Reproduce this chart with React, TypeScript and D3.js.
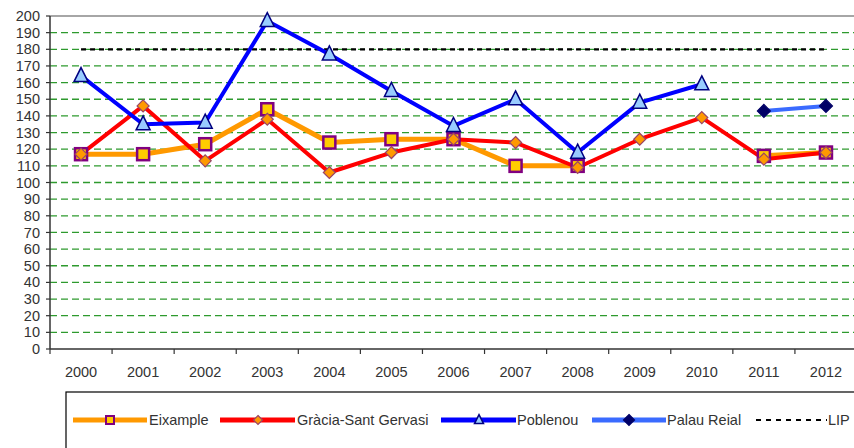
import React from "react";
import * as d3 from "d3";

const years = ["2000","2001","2002","2003","2004","2005","2006","2007","2008","2009","2010","2011","2012"];
const eixample: (number | null)[] = [117,117,123,144,124,126,126,110,110,null,null,116,118];
const gracia: (number | null)[] = [117,146,113,138,106,118,126,124,109,126,139,114,118];
const poblenou: (number | null)[] = [164,135,136,197,177,155,134,150,118,148,159,null,null];
const palauReial: (number | null)[] = [null,null,null,null,null,null,null,null,null,null,null,143,146];
const lip: number[] = [180,180,180,180,180,180,180,180,180,180,180,180,180];
const yTicks = d3.range(0, 201, 10);

const W = 854, H = 448;
const left = 50, right = 857, top = 16, bottom = 349;

export default function App() {
  const x = d3.scaleBand<string>().domain(years).range([left, right]);
  const y = d3.scaleLinear().domain([0, 200]).range([bottom, top]);
  const cx = (i: number) => (x(years[i]) as number) + x.bandwidth() / 2;

  const lineGen = d3.line<number | null>()
    .defined((d) => d !== null)
    .x((_, i) => cx(i))
    .y((d) => y(d as number));

  const font = "'Liberation Sans', Arial, sans-serif";
  const txt = "#333";
  const fs = 14.5;

  const square = (px: number, py: number, s: number, key: string, sw = 2.5) => (
    <rect key={key} x={px - s / 2} y={py - s / 2} width={s} height={s} fill="#ffcc00" stroke="#800080" strokeWidth={sw} />
  );
  const diamond = (px: number, py: number, r: number, fill: string, stroke: string, key: string) => (
    <path key={key} d={`M${px},${py - r}L${px + r},${py}L${px},${py + r}L${px - r},${py}Z`} fill={fill} stroke={stroke} strokeWidth={1.2} />
  );
  const tri = (px: number, py: number, s: number, key: string) => (
    <path key={key} d={`M${px},${py - s * 0.6}L${px + s / 2},${py + s * 0.4}L${px - s / 2},${py + s * 0.4}Z`} fill="#99ccff" stroke="#000080" strokeWidth={1.5} />
  );

  return (
    <svg width={W} height={H} style={{ position: "absolute", left: 0, top: 0, background: "#fff" }} fontFamily={font}>
      {/* grid */}
      {yTicks.filter((t) => t > 0 && t < 200).map((t) => (
        <line key={t} x1={left} x2={W} y1={y(t)} y2={y(t)} stroke="#2e9a2e" strokeWidth={1.3} strokeDasharray="7,4" />
      ))}
      <line x1={left} x2={W} y1={top} y2={top} stroke="#888" strokeWidth={1.5} />
      {/* LIP */}
      <path d={lineGen(lip) as string} fill="none" stroke="#000" strokeWidth={2.2} strokeDasharray="5,4" />
      {/* axes */}
      <line x1={left} x2={left} y1={top} y2={bottom} stroke="#333" strokeWidth={1.5} />
      <line x1={left} x2={W} y1={bottom} y2={bottom} stroke="#333" strokeWidth={1.5} />
      {yTicks.map((t) => (
        <g key={t}>
          <line x1={left - 4} x2={left} y1={y(t)} y2={y(t)} stroke="#333" strokeWidth={1.2} />
          <text x={left - 10} y={y(t)} dy="0.35em" textAnchor="end" fontSize={fs} fill={txt}>{t}</text>
        </g>
      ))}
      {years.map((yr, i) => (
        <g key={yr}>
          <line x1={x(yr) as number} x2={x(yr) as number} y1={bottom} y2={bottom + 5} stroke="#333" strokeWidth={1.2} />
          <text x={cx(i)} y={372} dy="0.35em" textAnchor="middle" fontSize={fs} fill={txt}>{yr}</text>
        </g>
      ))}
      {/* series lines */}
      <path d={lineGen(eixample) as string} fill="none" stroke="#ff9900" strokeWidth={5} strokeLinejoin="round" />
      <path d={lineGen(gracia) as string} fill="none" stroke="#ff0000" strokeWidth={4} strokeLinejoin="round" />
      <path d={lineGen(poblenou) as string} fill="none" stroke="#0000ff" strokeWidth={4} strokeLinejoin="round" />
      <path d={lineGen(palauReial) as string} fill="none" stroke="#3a6bff" strokeWidth={4} strokeLinejoin="round" />
      {/* markers */}
      {eixample.map((v, i) => v === null ? null : square(cx(i), y(v), 12, "e" + i))}
      {gracia.map((v, i) => v === null ? null : diamond(cx(i), y(v), 6, "#ff9900", "#994466", "g" + i))}
      {poblenou.map((v, i) => v === null ? null : tri(cx(i), y(v), 14, "p" + i))}
      {palauReial.map((v, i) => v === null ? null : diamond(cx(i), y(v), 6.5, "#000066", "#000066", "r" + i))}
      {/* legend */}
      <rect x={66} y={392} width={W} height={H} fill="#fff" stroke="#000" strokeWidth={1.2} />
      <g fontSize={fs} fill={txt}>
        <line x1={73} x2={147} y1={420} y2={420} stroke="#ff9900" strokeWidth={5} />
        {square(110, 420, 8, "le", 2)}
        <text x={149} y={420} dy="0.35em">Eixample</text>
        <line x1={220} x2={295} y1={420} y2={420} stroke="#ff0000" strokeWidth={5} />
        {diamond(258, 420, 4.5, "#ff9900", "#994466", "lg")}
        <text x={297} y={420} dy="0.35em">Gràcia-Sant Gervasi</text>
        <line x1={441} x2={516} y1={420} y2={420} stroke="#0000ff" strokeWidth={5} />
        {tri(479, 420, 9, "lp")}
        <text x={517} y={420} dy="0.35em">Poblenou</text>
        <line x1={592} x2={666} y1={420} y2={420} stroke="#3a6bff" strokeWidth={5} />
        {diamond(629, 420, 5.5, "#000066", "#000066", "lr")}
        <text x={667} y={420} dy="0.35em">Palau Reial</text>
        <line x1={756} x2={827} y1={420} y2={420} stroke="#000" strokeWidth={2} strokeDasharray="5,5" />
        <text x={828} y={420} dy="0.35em">LIP</text>
      </g>
    </svg>
  );
}
